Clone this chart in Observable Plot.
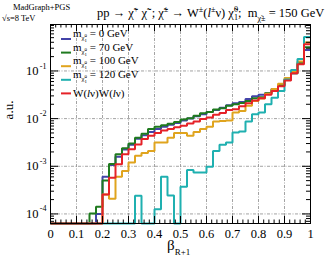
<!DOCTYPE html>
<html><head><meta charset="utf-8">
<script src="https://cdn.jsdelivr.net/npm/d3@7"></script>
<script src="https://cdn.jsdelivr.net/npm/@observablehq/plot@0.6"></script>
<style>body{margin:0;background:#fff}svg{display:block}</style>
</head><body><div id="chart"></div>
<script>
// bin lower edges (bin width 0.025)
const binStart = [0,0.025,0.05,0.075,0.1,0.125,0.15,0.175,0.2,0.225,0.25,0.275,0.3,0.325,0.35,0.375,0.4,0.425,0.45,0.475,0.5,0.525,0.55,0.575,0.6,0.625,0.65,0.675,0.7,0.725,0.75,0.775,0.8,0.825,0.85,0.875,0.9,0.925,0.95,0.975];
const m0 = [0,0,0,0,0,0,0,1.0e-4,6.03e-4,1.07e-3,1.58e-3,2.24e-3,2.82e-3,3.80e-3,4.47e-3,5.25e-3,6.03e-3,6.76e-3,7.41e-3,8.13e-3,9.12e-3,1.00e-2,1.12e-2,1.23e-2,1.38e-2,1.51e-2,1.70e-2,1.91e-2,2.09e-2,2.24e-2,2.57e-2,2.95e-2,3.16e-2,3.39e-2,4.17e-2,5.01e-2,6.61e-2,8.91e-2,0.148,0.275];
const m70 = [0,0,0,0,0,0,1.02e-4,1.41e-4,5.01e-4,1.12e-3,1.78e-3,2.40e-3,3.02e-3,3.98e-3,4.79e-3,6.03e-3,6.76e-3,7.24e-3,7.76e-3,8.51e-3,9.55e-3,1.02e-2,1.15e-2,1.29e-2,1.38e-2,1.55e-2,1.66e-2,1.86e-2,2.00e-2,2.14e-2,2.34e-2,2.69e-2,2.82e-2,3.39e-2,3.98e-2,5.01e-2,6.61e-2,8.91e-2,0.145,0.316];
const m100 = [0,0,0,0,0,0,0,0,2.57e-4,2.09e-4,6.03e-4,7.94e-4,1.20e-3,1.66e-3,1.91e-3,2.09e-3,3.16e-3,3.16e-3,3.98e-3,5.01e-3,5.01e-3,4.37e-3,5.25e-3,6.03e-3,6.76e-3,8.71e-3,8.91e-3,9.12e-3,1.35e-2,1.45e-2,1.86e-2,2.34e-2,2.63e-2,3.31e-2,4.17e-2,5.37e-2,7.08e-2,9.55e-2,0.158,0.398];
const m120 = [0,0,0,0,0,0,0,0,0,0,0,0,0,2.40e-4,0,0,1.26e-4,6.03e-4,2.45e-4,0,3.72e-4,8.32e-4,7.41e-4,7.41e-4,9.77e-4,2.09e-3,2.82e-3,3.16e-3,5.13e-3,5.37e-3,8.71e-3,1.23e-2,1.35e-2,2.00e-2,2.75e-2,3.80e-2,6.61e-2,0.105,0.178,0.513];
const ww = [0,0,0,0,0,0,0,0,2.57e-4,5.75e-4,1.10e-3,1.78e-3,2.29e-3,2.88e-3,3.72e-3,4.37e-3,5.01e-3,5.62e-3,6.03e-3,6.61e-3,7.08e-3,7.94e-3,8.71e-3,9.77e-3,1.05e-2,1.20e-2,1.32e-2,1.51e-2,1.58e-2,1.82e-2,2.09e-2,2.40e-2,2.69e-2,3.16e-2,3.80e-2,4.79e-2,6.31e-2,8.91e-2,0.138,0.363];

const seriesValues = [m0, m70, m100, m120, ww];
const seriesColors = ["#4343a8","#1f7a1f","#e0a41e","#1fb0b0","#e52228"];
const legendLabels = ["0 GeV","70 GeV","100 GeV","120 GeV"];

const xTicks = [0,0.1,0.2,0.3,0.4,0.5,0.6,0.7,0.8,0.9,1];
const xTickLabels = ["0","0.1","0.2","0.3","0.4","0.5","0.6","0.7","0.8","0.9","1"];
const yTicks = [1e-4,1e-3,1e-2,1e-1];
const yTickExp = ["-4","-3","-2","-1"];

const W = 332, H = 263, mL = 50, mR = 22, mT = 24, mB = 40;
const fw = W - mL - mR, fh = H - mT - mB;
const yDomain = [6.3e-5, 0.944];
const FLOOR = 1e-9;

const xMinor = d3.range(1, 50).map(i => i * 0.02);
const yMinor = [];
for (let e = -5; e <= 0; e++) for (let k = 2; k <= 9; k++) { const v = k * Math.pow(10, e); if (v > yDomain[0] && v < yDomain[1]) yMinor.push(v); }

function tableFor(vals) {
  const rows = vals.map((v, i) => ({x: binStart[i], y: v > 0 ? v : FLOOR}));
  rows.push({x: 1, y: rows[rows.length - 1].y});
  return rows;
}

const grid = {stroke: "#8c8c8c", strokeWidth: 0.8, strokeDasharray: "3,1.5,1,1.5"};
const serif = "Liberation Serif, Times New Roman, serif";

const plot = Plot.plot({
  width: W, height: H,
  marginLeft: mL, marginRight: mR, marginTop: mT, marginBottom: mB,
  style: {fontFamily: serif, background: "white", color: "black", overflow: "visible"},
  x: {domain: [0, 1], axis: null},
  y: {type: "log", domain: yDomain, clamp: true, axis: null},
  marks: [
    Plot.ruleX(xTicks.slice(1, -1), {...grid}),
    Plot.ruleY(yTicks, {...grid}),
    ...seriesValues.map((vals, k) => Plot.line(tableFor(vals), {x: "x", y: "y", curve: "step-after", stroke: seriesColors[k], strokeWidth: 2, strokeLinejoin: "miter", strokeLinecap: "butt"})),
    Plot.tickX(xTicks, {x: d => d, insetTop: fh - 7, stroke: "black"}),
    Plot.tickX(xMinor, {x: d => d, insetTop: fh - 3.5, stroke: "black"}),
    Plot.tickX(xTicks, {x: d => d, insetBottom: fh - 7, stroke: "black"}),
    Plot.tickX(xMinor, {x: d => d, insetBottom: fh - 3.5, stroke: "black"}),
    Plot.tickY(yTicks, {y: d => d, insetRight: fw - 8, stroke: "black"}),
    Plot.tickY(yMinor, {y: d => d, insetRight: fw - 4, stroke: "black"}),
    Plot.tickY(yTicks, {y: d => d, insetLeft: fw - 8, stroke: "black"}),
    Plot.tickY(yMinor, {y: d => d, insetLeft: fw - 4, stroke: "black"}),
    Plot.frame({stroke: "black", strokeWidth: 1}),
    Plot.text(xTicks, {x: d => d, frameAnchor: "bottom", text: (d, i) => xTickLabels[i], dy: 10, lineAnchor: "middle", fontSize: 12.5, fill: "black"}),
    Plot.text(yTicks, {y: d => d, frameAnchor: "left", text: () => "10", dx: -12, textAnchor: "end", lineAnchor: "middle", fontSize: 12.5, fill: "black"}),
    Plot.text(yTicks, {y: d => d, frameAnchor: "left", text: (d, i) => yTickExp[i], dx: -4, dy: -5, textAnchor: "end", lineAnchor: "middle", fontSize: 8, fill: "black"})
  ]
});
document.getElementById("chart").appendChild(plot);

const svg = d3.select(plot);
// parts: [text, level(px offset, + = down), scale, dx, italic]
function rich(sel, parts, size) {
  let cur = 0;
  for (const [s, lvl = 0, sc = 1, dx = 0, it = false] of parts) {
    const ts = sel.append("tspan").text(s);
    ts.attr("dy", lvl - cur); cur = lvl;
    if (sc !== 1) ts.attr("font-size", size * sc);
    if (it) ts.attr("font-style", "italic");
    if (dx) ts.attr("dx", dx);
  }
}
function addText(x, y, size) {
  return svg.append("text").attr("x", x).attr("y", y).attr("font-family", serif)
    .attr("font-size", size).attr("text-anchor", "start").attr("fill", "black");
}
const chi = "\u03C7\u0303";
addText(13, 10, 8.5).text("MadGraph+PGS");
addText(2, 21, 8.5).text("\u221As=8 TeV");
const title = addText(97, 17, 12.5);
rich(title, [
  ["pp \u2192 " + chi], ["+", -5, 0.65], [" " + chi], ["\u2212", -5, 0.65], ["; " + chi], ["\u00B1", -5, 0.65],
  [" \u2192 W"], ["\u00B1", -5, 0.65], ["("], ["l", 0, 1, 0, true], ["\u00B1", -5, 0.65], ["\u03BD) " + chi],
  ["0", -5, 0.65], ["1", 3, 0.65, -4], [";  m"], [chi + "\u00B1", 4, 0.65], [" = 150 GeV"]
], 12.5);

const legY0 = 39, legDy = 13.6;
seriesColors.forEach((c, k) => {
  const y = legY0 + legDy * k;
  svg.append("line").attr("x1", 61).attr("x2", 71).attr("y1", y).attr("y2", y).attr("stroke", c).attr("stroke-width", 2);
  if (k < 4) {
    const t = addText(73, y - 2, 11);
    rich(t, [["m"], [chi, 3, 0.6], ["0", 0, 0.45], ["1", 5, 0.45, -2.5], [" = " + legendLabels[k], 0]], 11);
  } else {
    const t = addText(73, y + 3.5, 11);
    rich(t, [["W("], ["l", 0, 1, 0, true], ["\u03BD)W("], ["l", 0, 1, 0, true], ["\u03BD)"]], 11);
  }
});

svg.append("text").attr("transform", "translate(13,110) rotate(-90)").attr("text-anchor", "middle")
  .attr("font-family", serif).attr("font-size", 13).attr("fill", "black").text("a.u.");
const xt = addText(167, 250, 15);
rich(xt, [["\u03B2"], ["R+1", 5, 0.6]], 15);
</script></body></html>
